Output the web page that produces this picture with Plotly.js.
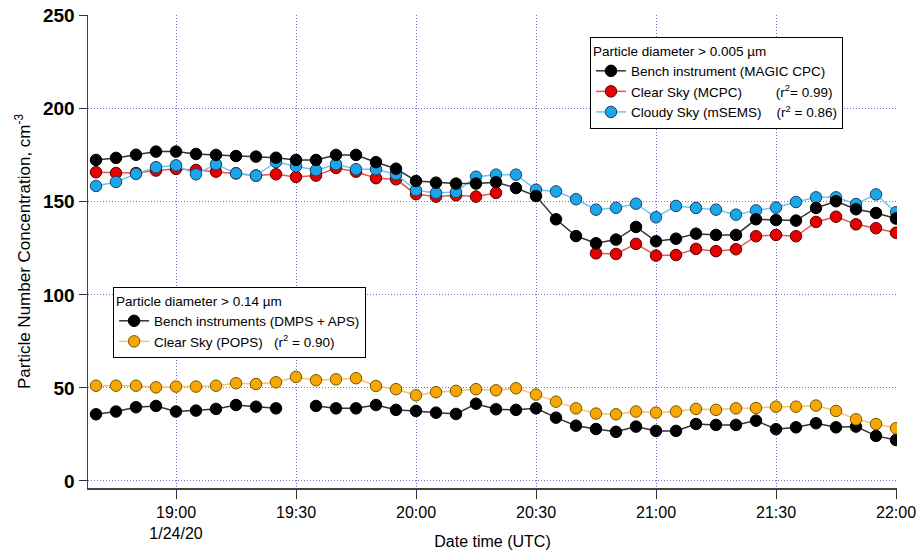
<!DOCTYPE html>
<html>
<head>
<meta charset="utf-8">
<script src="https://cdn.plot.ly/plotly-3.0.1.min.js"></script>
<style>html,body{margin:0;padding:0;background:#fff;}#chart{width:918px;height:550px;}</style>
</head>
<body>
<div id="chart"></div>
<script>
var times = [
  "2020-01-24 18:40","2020-01-24 18:45","2020-01-24 18:50","2020-01-24 18:55",
  "2020-01-24 19:00","2020-01-24 19:05","2020-01-24 19:10","2020-01-24 19:15",
  "2020-01-24 19:20","2020-01-24 19:25","2020-01-24 19:30","2020-01-24 19:35",
  "2020-01-24 19:40","2020-01-24 19:45","2020-01-24 19:50","2020-01-24 19:55",
  "2020-01-24 20:00","2020-01-24 20:05","2020-01-24 20:10","2020-01-24 20:15",
  "2020-01-24 20:20","2020-01-24 20:25","2020-01-24 20:30","2020-01-24 20:35",
  "2020-01-24 20:40","2020-01-24 20:45","2020-01-24 20:50","2020-01-24 20:55",
  "2020-01-24 21:00","2020-01-24 21:05","2020-01-24 21:10","2020-01-24 21:15",
  "2020-01-24 21:20","2020-01-24 21:25","2020-01-24 21:30","2020-01-24 21:35",
  "2020-01-24 21:40","2020-01-24 21:45","2020-01-24 21:50","2020-01-24 21:55",
  "2020-01-24 22:00"
];

var benchCPC = [172.5,173.6,175.3,177.0,177.0,175.7,175.2,174.6,174.3,173.7,
  172.5,172.5,175.2,175.2,171.3,167.8,161.2,160.3,159.8,159.8,
  160.5,157.4,153.1,140.6,131.6,127.7,129.7,136.5,128.8,130.2,
  132.9,132.2,132.2,140.6,140.2,139.9,146.7,150.3,146.0,144.0,141.0];

var clearMCPC = [165.9,165.5,165.5,166.8,167.7,167.1,166.2,165.3,164.1,164.8,
  163.4,164.1,168.2,166.2,162.7,162.1,154.1,152.8,153.5,152.8,
  154.8,null,null,null,null,122.3,122.0,127.4,121.1,121.4,
  124.7,123.5,124.5,131.5,132.2,131.5,139.2,142.0,137.9,135.8,133.4];

var cloudySEMS = [158.5,160.7,165.0,168.6,169.6,164.8,170.2,165.3,164.1,171.4,
  169.1,167.0,170.2,167.5,167.5,164.8,156.2,154.8,155.3,163.5,
  164.6,164.6,156.5,155.6,151.4,145.8,146.8,149.0,141.7,147.8,
  146.7,145.8,143.1,145.4,146.9,149.9,152.4,152.4,148.8,154.0,144.4];

var benchDMPS = [35.8,37.3,39.6,40.3,37.3,37.8,38.7,40.8,39.9,39.0,
  null,40.3,39.0,39.0,40.8,38.2,37.6,36.7,36.0,41.5,
  38.5,38.2,39.0,34.0,29.7,27.9,26.4,29.2,26.9,26.9,
  30.6,30.1,30.1,32.4,27.8,28.8,31.0,28.8,29.2,24.2,22.0];

var clearPOPS = [51.2,51.2,51.2,50.3,50.7,50.7,51.2,52.5,52.1,53.0,
  55.9,54.1,54.6,55.2,51.0,49.3,46.0,47.7,48.4,49.3,
  48.7,49.8,46.4,42.6,39.0,36.2,35.8,37.3,36.7,37.3,
  38.7,38.2,39.0,39.2,39.9,39.9,40.5,37.6,33.1,30.6,28.3];

var xTickVals = ["2020-01-24 19:00","2020-01-24 19:30","2020-01-24 20:00","2020-01-24 20:30",
  "2020-01-24 21:00","2020-01-24 21:30","2020-01-24 22:00"];
var xTickText = ["19:00<br>1/24/20","19:30","20:00","20:30","21:00","21:30","22:00"];
var yTickVals = [0,50,100,150,200,250];

var NB = "\u00A0";
function pad(n){ return new Array(n+1).join(NB); }

var FONT = "Liberation Sans, Arial, sans-serif";

function tr(y, name, fill, edge, lineColor, legendId){
  return {
    x: times, y: y, name: name, type: "scatter", mode: "lines+markers",
    connectgaps: false, legend: legendId,
    line: {color: lineColor, width: 1.5},
    marker: {symbol: "circle", size: 11.5, color: fill, line: {color: edge, width: 1}}
  };
}

var data = [
  tr(benchDMPS, "Bench instruments (DMPS + APS)", "#000000", "#000000", "#333333", "legend2"),
  tr(clearPOPS, "Clear Sky (POPS)" + pad(3) + "(r<sup>2</sup> = 0.90)", "#f7a800", "#7a5400", "#f4c46a", "legend2"),
  tr(clearMCPC, "Clear Sky (MCPC)" + pad(9) + "(r<sup>2</sup>= 0.99)", "#e60000", "#5a0000", "#e55555", "legend"),
  tr(cloudySEMS, "Cloudy Sky (mSEMS)" + pad(4) + "(r<sup>2</sup> = 0.86)", "#1aa7ea", "#1d3f66", "#6ac6f0", "legend"),
  tr(benchCPC, "Bench instrument (MAGIC CPC)", "#000000", "#000000", "#333333", "legend")
];
data[2].legendrank = 2; data[3].legendrank = 3; data[4].legendrank = 1;
data[0].legendrank = 1; data[1].legendrank = 2;

var GRID = "#7474cc";

var layout = {
  width: 918, height: 550,
  margin: {l: 88, r: 21, t: 15, b: 62},
  paper_bgcolor: "#ffffff", plot_bgcolor: "#ffffff",
  font: {family: FONT, size: 13, color: "#000"},
  showlegend: true,
  xaxis: {
    type: "date",
    range: ["2020-01-24 18:38", "2020-01-24 22:00:15"],
    tickmode: "array", tickvals: xTickVals, ticktext: xTickText,
    tickfont: {family: FONT, size: 16},
    ticks: "outside", ticklen: 9, tickcolor: "#333", tickwidth: 1,
    showgrid: true, gridcolor: GRID, griddash: "1px,2px", gridwidth: 1,
    zeroline: false, showline: true, linecolor: "#444", linewidth: 1.5,
    title: {text: "Date time (UTC)", font: {family: FONT, size: 16}, standoff: 2}
  },
  yaxis: {
    range: [-3.8, 250.4],
    tickmode: "array", tickvals: yTickVals,
    tickfont: {family: FONT, size: 19, weight: "bold"},
    ticks: "outside", ticklen: 8, tickcolor: "#333", tickwidth: 1,
    showgrid: true, gridcolor: GRID, griddash: "1px,2px", gridwidth: 1,
    zeroline: false, showline: true, linecolor: "#444", linewidth: 1.5,
    title: {text: "Particle Number Concentration, cm<sup>-3</sup>", font: {family: FONT, size: 17}, standoff: 8}
  },
  legend: {
    x: 0.6205, y: 0.9535, xanchor: "left", yanchor: "top",
    bgcolor: "#ffffff", bordercolor: "#000", borderwidth: 1,
    font: {family: FONT, size: 13.5},
    title: {text: "Particle diameter > 0.005 \u00B5m", font: {family: FONT, size: 13.5}},
    tracegroupgap: 0, itemwidth: 30
  },
  legend2: {
    x: 0.031, y: 0.425, xanchor: "left", yanchor: "top",
    bgcolor: "#ffffff", bordercolor: "#000", borderwidth: 1,
    font: {family: FONT, size: 13.5},
    title: {text: "Particle diameter > 0.14 \u00B5m", font: {family: FONT, size: 13.5}},
    tracegroupgap: 0, itemwidth: 30
  }
};

Plotly.newPlot("chart", data, layout, {displayModeBar: false, staticPlot: true});
</script>
</body>
</html>
